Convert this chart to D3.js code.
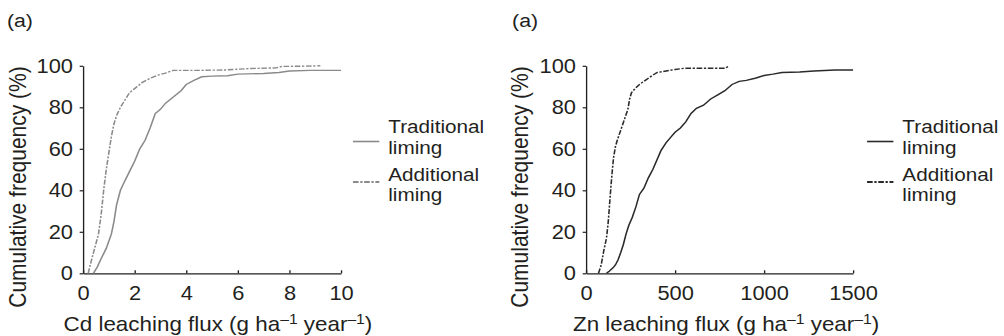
<!DOCTYPE html>
<html>
<head>
<meta charset="utf-8">
<script src="https://cdn.jsdelivr.net/npm/d3@7"></script>
<style>
  html, body { margin: 0; padding: 0; background: #fff; }
  svg { display: block; }
  text { font-family: "Liberation Sans", Arial, Helvetica, sans-serif; fill: #231f20; }
</style>
</head>
<body>
<svg id="chart" width="1004" height="336" viewBox="0 0 896 336" preserveAspectRatio="none"></svg>
<script>
// Cumulative frequency (%) of Cd leaching flux (g ha-1 year-1)
const cdTraditional = [
  [0.4, 0], [0.55, 3], [0.7, 7], [0.9, 12], [1.1, 19], [1.2, 25], [1.3, 33], [1.45, 40],
  [1.6, 44], [1.8, 49], [2.0, 54], [2.2, 60], [2.4, 64], [2.6, 70], [2.8, 77], [3.0, 79],
  [3.2, 82], [3.5, 85], [3.8, 88], [4.0, 91], [4.3, 93], [4.6, 94.7], [5.0, 95], [5.6, 95.2],
  [6.0, 96], [7.0, 96.3], [7.6, 96.8], [8.0, 97.5], [8.8, 97.8], [10, 97.8]
];
const cdAdditional = [
  [0.2, 0], [0.3, 5], [0.45, 12], [0.6, 19], [0.7, 28], [0.8, 40], [0.9, 50], [1.0, 58],
  [1.1, 66], [1.2, 72], [1.3, 76], [1.45, 80], [1.6, 83], [1.8, 87], [2.0, 89], [2.3, 92],
  [2.6, 94], [2.9, 95.5], [3.2, 96.5], [3.5, 97.8], [4.5, 97.8], [5.5, 98], [6.5, 98.7],
  [7.5, 99], [7.7, 99.7], [8.5, 99.8], [9.2, 100]
];

// Cumulative frequency (%) of Zn leaching flux (g ha-1 year-1)
const znTraditional = [
  [115, 0], [130, 1], [150, 2.5], [165, 4], [180, 6.5], [195, 10], [210, 14], [225, 19],
  [240, 23], [260, 27], [280, 32], [300, 38], [325, 41], [350, 46], [375, 50], [400, 55],
  [420, 59], [450, 63], [480, 66], [500, 68], [530, 70], [560, 73], [590, 77], [620, 79.5],
  [660, 81], [700, 84], [740, 86], [780, 88], [820, 91], [860, 92.5], [900, 93], [950, 94],
  [1000, 95.3], [1050, 96], [1100, 96.8], [1200, 97], [1280, 97.5], [1400, 98], [1500, 98]
];
const znAdditional = [
  [70, 0], [85, 4], [100, 11], [115, 17], [125, 25], [132, 33], [140, 42], [148, 50],
  [155, 56], [165, 61], [175, 64], [195, 69], [215, 74], [235, 79], [245, 84], [255, 87],
  [275, 89], [300, 91], [325, 92.5], [350, 94], [375, 95.5], [400, 96.8], [450, 97.5],
  [500, 98.2], [550, 98.8], [650, 98.8], [780, 98.8], [805, 100]
];

const yTicks = [0, 20, 40, 60, 80, 100];
const cdTicks = [0, 2, 4, 6, 8, 10];
const znTicks = [0, 500, 1000, 1500];
const legendLabels = [["Traditional", "liming"], ["Additional", "liming"]];
const panelLabel = "(a)";
const yTitle = "Cumulative frequency (%)";

const svg = d3.select("#chart");
const dashDot = "5,1.5,2,1.5";

function drawPanel(p) {
  const g = svg.append("g");
  const x = d3.scaleLinear().domain(p.xDomain).range(p.xRange);
  const y = d3.scaleLinear().domain([0, 100]).range([273.3, 65.8]);

  g.append("text").attr("x", p.labelX).attr("y", 27).attr("font-size", 19).text(panelLabel);

  // y axis: outward ticks
  const ya = g.append("g").attr("transform", `translate(${p.xRange[0]},0)`)
    .call(d3.axisLeft(y).tickValues(yTicks).tickFormat(d3.format("d"))
      .tickSizeInner(3).tickSizeOuter(0).tickPadding(6));
  // x axis: ticks point into the plot
  const xa = g.append("g").attr("transform", `translate(0,${y(0)})`)
    .call(d3.axisBottom(x).tickValues(p.xTicks).tickFormat(d3.format("d"))
      .tickSizeInner(-3).tickSizeOuter(0).tickPadding(13));
  [ya, xa].forEach(a => {
    a.attr("font-family", null).attr("font-size", null);
    a.selectAll("path, line").attr("stroke", "#231f20").attr("stroke-width", 1.2);
    a.selectAll("text").attr("font-size", 19.5).attr("fill", "#231f20");
  });

  // axis titles
  g.append("text")
    .attr("transform", `translate(${p.yTitleX},187) rotate(-90)`)
    .attr("text-anchor", "middle").attr("font-size", 21).text(yTitle);

  const xt = g.append("text").attr("x", p.xTitleX).attr("y", 331)
    .attr("text-anchor", "middle").attr("font-size", 20);
  xt.append("tspan").text(p.element + " leaching flux (g ha");
  xt.append("tspan").attr("font-size", 14).attr("dy", -7).text("\u20131");
  xt.append("tspan").attr("dy", 7).text(" year");
  xt.append("tspan").attr("font-size", 14).attr("dy", -7).text("\u20131");
  xt.append("tspan").attr("dy", 7).text(")");

  const line = d3.line().x(d => x(d[0])).y(d => y(d[1]));
  g.append("path").datum(p.traditional).attr("d", line)
    .attr("fill", "none").attr("stroke", p.color).attr("stroke-width", 1.4);
  g.append("path").datum(p.additional).attr("d", line)
    .attr("fill", "none").attr("stroke", p.color).attr("stroke-width", 1.4)
    .attr("stroke-dasharray", dashDot);

  // legend
  const lg = g.append("g");
  const lineY = [141.5, 182];
  const textY = [[133, 154], [181, 201]];
  legendLabels.forEach((lab, i) => {
    lg.append("line").attr("x1", p.legX).attr("x2", p.legX + 23.5)
      .attr("y1", lineY[i]).attr("y2", lineY[i])
      .attr("stroke", p.color).attr("stroke-width", i === 0 ? 1.6 : 1.8)
      .attr("stroke-dasharray", i === 0 ? null : dashDot);
    lab.forEach((t, j) => {
      lg.append("text").attr("x", p.legX + 31.5).attr("y", textY[i][j])
        .attr("font-size", 18.5).text(t);
    });
  });
}

drawPanel({
  element: "Cd", xDomain: [0, 10], xRange: [74.1, 304.3], xTicks: cdTicks,
  traditional: cdTraditional, additional: cdAdditional, color: "#8a8a8a",
  labelX: 6.2, yTitleX: 23.2, xTitleX: 194.5, legX: 315.0
});
drawPanel({
  element: "Zn", xDomain: [0, 1500], xRange: [523.0, 761.3], xTicks: znTicks,
  traditional: znTraditional, additional: znAdditional, color: "#2a2a2a",
  labelX: 457.0, yTitleX: 471.2, xTitleX: 648.0, legX: 773.8
});
</script>
</body>
</html>
